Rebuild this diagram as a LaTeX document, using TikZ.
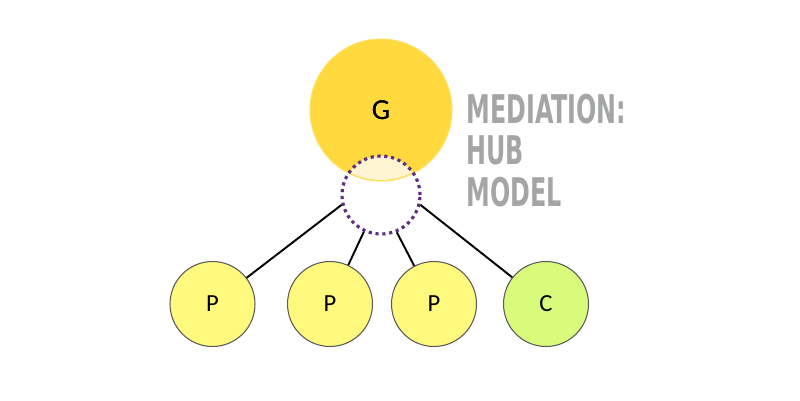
\documentclass[tikz,border=0pt]{standalone}
\usepackage{fontspec}
\setmainfont{Carlito}
\newfontfamily\titlefont{DejaVu Sans Condensed}
\definecolor{gold}{HTML}{FFD93D}
\definecolor{pale}{HTML}{FFF4D2}
\definecolor{pyellow}{HTML}{FFFA7E}
\definecolor{cgreen}{HTML}{D8FB7C}
\definecolor{hubpurple}{HTML}{5E2D82}
\definecolor{titlegray}{HTML}{A4A6A5}
\newcommand{\narrowtxt}[1]{\scalebox{0.67}[1]{#1}}
\tikzset{
  gnode/.style={circle,fill=gold,draw=gold!80!white,line width=0.6pt,minimum size=2.84cm,inner sep=0pt,font=\fontsize{16.5}{18}\selectfont},
  pnode/.style={circle,fill=pyellow,draw=black!65,line width=0.6pt,minimum size=1.70cm,inner sep=0pt,font=\fontsize{14}{16}\selectfont},
  cnode/.style={pnode,fill=cgreen},
  hubnode/.style={circle,draw=hubpurple,line width=1.8pt,dash pattern=on 1.8pt off 2.1pt,minimum size=1.56cm,inner sep=0pt},
  link/.style={line width=1.1pt,black}
}
\begin{document}
\begin{tikzpicture}[x=0.02cm,y=-0.02cm]
\useasboundingbox[fill=white] (0,0) rectangle (800,400);
\node[gnode] (g) at (381,110) {G};
\begin{scope}
  \clip (381,110) circle (70);
  \fill[pale] (381,195) circle (39);
\end{scope}
\node[gnode,fill=none,draw=none] at (381,110) {G};
\node[hubnode] (hub) at (381,195) {};
\node[pnode] (p1) at (212.5,304) {P};
\node[pnode] (p2) at (330,304) {P};
\node[pnode] (p3) at (434,304) {P};
\node[cnode] (c) at (546,304) {C};
\draw[link] (hub.194) -- (p1);
\draw[link] (hub.245) -- (p2);
\draw[link] (hub.293) -- (p3);
\draw[link] (hub.346) -- (c);
\node[anchor=north west,align=left,text=titlegray,inner sep=0pt,
  font=\titlefont\bfseries\fontsize{22.5}{23.5}\selectfont] (title) at (466,94)
  {\narrowtxt{MEDIATION:}\\\narrowtxt{HUB}\\\narrowtxt{MODEL}};
\end{tikzpicture}
\end{document}
